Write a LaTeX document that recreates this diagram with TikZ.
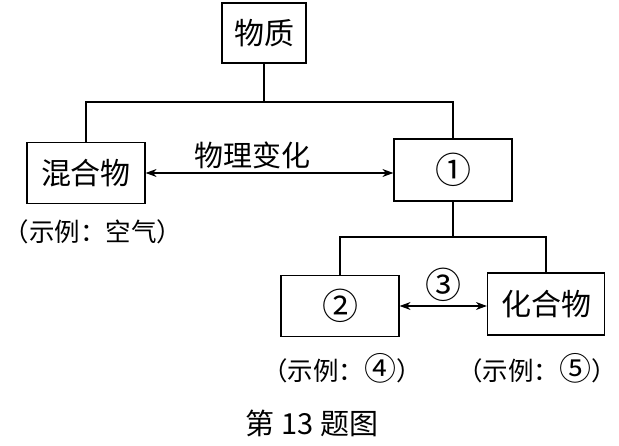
\documentclass[tikz,border=0pt]{standalone}
\usepackage{fontspec}
\setmainfont{Noto Sans CJK SC}
\usetikzlibrary{arrows.meta,positioning}
\tikzset{
	box/.style={draw,line width=1.2pt,inner sep=0pt,minimum width=118pt,minimum height=61pt,font=\fontsize{30}{32}\selectfont},
	edge/.style={color=black,line width=1.2pt},
	diredge/.style={<->,>={Stealth[width=8pt,length=11pt]},color=black,line width=1.2pt},
	txtlabel/.style={inner sep=0pt,font=\fontsize{29}{31}\selectfont},
	circlabel/.style={inner sep=0pt,font=\fontsize{36}{38}\selectfont},
	exlabel/.style={inner sep=0pt,font=\fontsize{25.5}{28}\selectfont}
}
\newcommand{\circnum}[1]{{\fontsize{32}{34}\selectfont #1}}
\begin{document}
\begin{tikzpicture}[x=1pt,y=-1pt]
	\useasboundingbox (0,0) rectangle (619,446);
	%%%% top
	\node[box,minimum width=84pt,minimum height=60pt] (wz) at (264,33) {物质};
	\coordinate (split1) at (264,102);
	
	%%%% second row
	\node[box] (hhw) at (86,173) {混合物};
	\node[box,minimum height=62pt,font=\fontsize{36}{38}\selectfont] (c1) at (453,170) {①};
	\node[txtlabel] (pc) at (252,155) {物理变化};
	\node[exlabel] (ex0) at (93,232) {（示例：空气）};
	
	\draw[edge] (wz) -- (split1);
	\draw[edge] (hhw.north) |- (split1) -| (c1.north);
	\draw[diredge] (hhw.east) -- (hhw.east -| c1.west);
	
	%%%% third row
	\coordinate (split2) at (453,237);
	\node[box,font=\fontsize{36}{38}\selectfont] (c2) at (340,306) {②};
	\node[box,minimum width=117pt,minimum height=62pt] (hhw2) at (546,304) {化合物};
	\node[circlabel] (c3) at (443,285) {③};
	\node[exlabel] (ex4) at (342,368) {（示例：\circnum{④}）};
	\node[exlabel] (ex5) at (537,368) {（示例：\circnum{⑤}）};
	
	\draw[edge] (c1) -- (split2);
	\draw[edge] (c2.north) |- (split2) -| (hhw2.north);
	\draw[diredge] (c2.east) -- (c2.east -| hhw2.west);
	
	%%%% caption
	\node[txtlabel] (cap) at (312,423) {第 13 题图};
\end{tikzpicture}
\end{document}
